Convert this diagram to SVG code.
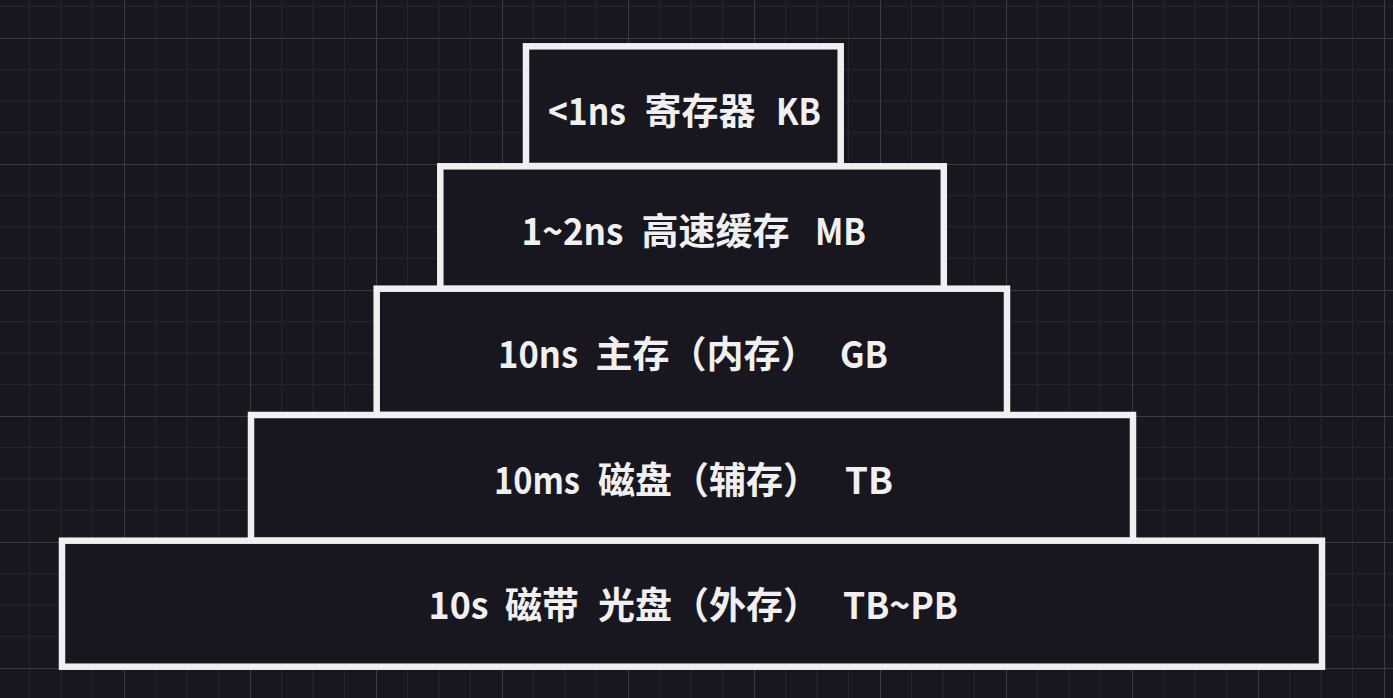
<svg xmlns="http://www.w3.org/2000/svg" width="1393" height="698" viewBox="0 0 1393 698">
  <defs>
    <pattern id="grid" patternUnits="userSpaceOnUse" x="-2" y="-88" width="126" height="126">
      <rect x="31" y="0" width="1" height="126" fill="#25232c"/>
      <rect x="62.5" y="0" width="1" height="126" fill="#25232c"/>
      <rect x="94" y="0" width="1" height="126" fill="#25232c"/>
      <rect x="0" y="31" width="126" height="1" fill="#25232c"/>
      <rect x="0" y="62.5" width="126" height="1" fill="#25232c"/>
      <rect x="0" y="94" width="126" height="1" fill="#25232c"/>
      <rect x="0" y="0" width="1" height="126" fill="#3b3a41"/>
      <rect x="0" y="0" width="126" height="1" fill="#3b3a41"/>
    </pattern>
  </defs>
  <style>
    .box { fill: #18161f; stroke: #f0f0f0; stroke-width: 6.5; }
    .lbl { fill: #f0f0f0; font-family: "Noto Sans CJK SC", "Noto Sans", sans-serif; font-weight: 700; font-size: 37px; }
  </style>
  <rect width="1393" height="698" fill="#18161f"/>
  <rect width="1393" height="698" fill="url(#grid)"/>
  <g id="connectors"></g>
  <g id="register">
    <rect class="box" x="526" y="46.3" width="314.7" height="119.7"/>
    <text class="lbl" y="124.5"><tspan x="548" textLength="78" lengthAdjust="spacingAndGlyphs">&lt;1ns</tspan><tspan> </tspan><tspan x="644.5">寄存器 </tspan><tspan x="776" textLength="45" lengthAdjust="spacingAndGlyphs">KB</tspan></text>
  </g>
  <g id="cache">
    <rect class="box" x="440.3" y="166.3" width="503.5" height="122.7"/>
    <text class="lbl" y="245"><tspan x="521.5" textLength="102" lengthAdjust="spacingAndGlyphs">1~2ns</tspan><tspan> </tspan><tspan x="641.5">高速缓存 </tspan><tspan x="815" textLength="51" lengthAdjust="spacingAndGlyphs">MB</tspan></text>
  </g>
  <g id="main-memory">
    <rect class="box" x="376.7" y="288.7" width="630.3" height="126.3"/>
    <text class="lbl" y="368"><tspan x="498" textLength="80" lengthAdjust="spacingAndGlyphs">10ns</tspan><tspan> </tspan><tspan x="595.5">主存（内存） </tspan><tspan x="840" textLength="48" lengthAdjust="spacingAndGlyphs">GB</tspan></text>
  </g>
  <g id="disk">
    <rect class="box" x="251" y="415" width="882" height="125.7"/>
    <text class="lbl" y="493.5"><tspan x="494" textLength="86" lengthAdjust="spacingAndGlyphs">10ms</tspan><tspan> </tspan><tspan x="598">磁盘（辅存） </tspan><tspan x="845" textLength="48" lengthAdjust="spacingAndGlyphs">TB</tspan></text>
  </g>
  <g id="tape">
    <rect class="box" x="62" y="540.7" width="1260" height="126"/>
    <text class="lbl" y="619"><tspan x="428.5" textLength="60" lengthAdjust="spacingAndGlyphs">10s</tspan><tspan> </tspan><tspan x="505">磁带 </tspan><tspan x="598">光盘（外存） </tspan><tspan x="843" textLength="115" lengthAdjust="spacingAndGlyphs">TB~PB</tspan></text>
  </g>
</svg>
